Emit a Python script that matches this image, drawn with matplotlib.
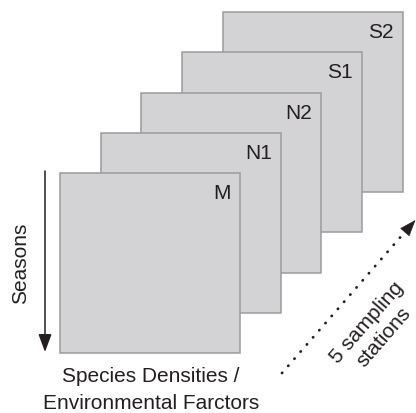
import numpy as np
import matplotlib.pyplot as plt
from matplotlib.patches import Rectangle

plt.rcParams['font.family'] = ['Liberation Sans', 'DejaVu Sans']

# stations, front to back
stations = ['M', 'N1', 'N2', 'S1', 'S2']
seasons_label = 'Seasons'
bottom_lines = ['Species Densities /', 'Environmental Farctors']
stations_lines = ['5 sampling', 'stations']

# layout in pixel coordinates (origin at top left)
size = 180
x0, y0 = 60, 174
step_x, step_y = 40.7, -40.2

fig = plt.figure(figsize=(4.16, 4.14), dpi=100)
ax = fig.add_axes([0, 0, 1, 1])
ax.set_xlim(0, 416)
ax.set_ylim(414, 0)
ax.axis('off')

# draw back to front so M ends up on top
for i in reversed(range(len(stations))):
    x = x0 + i * step_x
    y = y0 + i * step_y
    ax.add_patch(Rectangle((x, y), size, size, facecolor='#d3d3d5',
                           edgecolor='#9b9b9b', lw=1.1))
    ax.text(x + size - 9, y + 25, stations[i], ha='right', va='baseline',
            fontsize=15, color='#231f20')

# seasons arrow
ax.annotate('', xy=(45, 353), xytext=(45, 172),
            arrowprops=dict(arrowstyle='-|>,head_length=1.08,head_width=0.4',
                            mutation_scale=10, color='#231f20', lw=1.1,
                            shrinkA=0, shrinkB=0))
ax.text(21, 263, seasons_label, rotation=90, ha='center', va='center',
        fontsize=15, color='#231f20')

for k, line in enumerate(bottom_lines):
    ax.text(151, 382 + 27 * k, line, ha='center', va='baseline',
            fontsize=15, color='#231f20')

# dotted stations arrow
ax.plot([282, 404], [374, 234], linestyle=(0, (0.1, 3.3)), lw=2.0,
        dash_capstyle='round', color='#231f20')
ax.annotate('', xy=(415.5, 221), xytext=(405, 233),
            arrowprops=dict(arrowstyle='-|>,head_length=1.08,head_width=0.4',
                            mutation_scale=10, color='#231f20', lw=0.5,
                            shrinkA=0, shrinkB=0))

# rotated label, one line at a time stepping down-right
ang = np.deg2rad(49)
for k, line in enumerate(stations_lines):
    cx = 367 + k * 22 * np.sin(ang)
    cy = 323 + k * 22 * np.cos(ang)
    ax.text(cx, cy, line, rotation=49, ha='center', va='center',
            fontsize=15, color='#231f20', rotation_mode='anchor')

fig.savefig('out.png', dpi=100)
